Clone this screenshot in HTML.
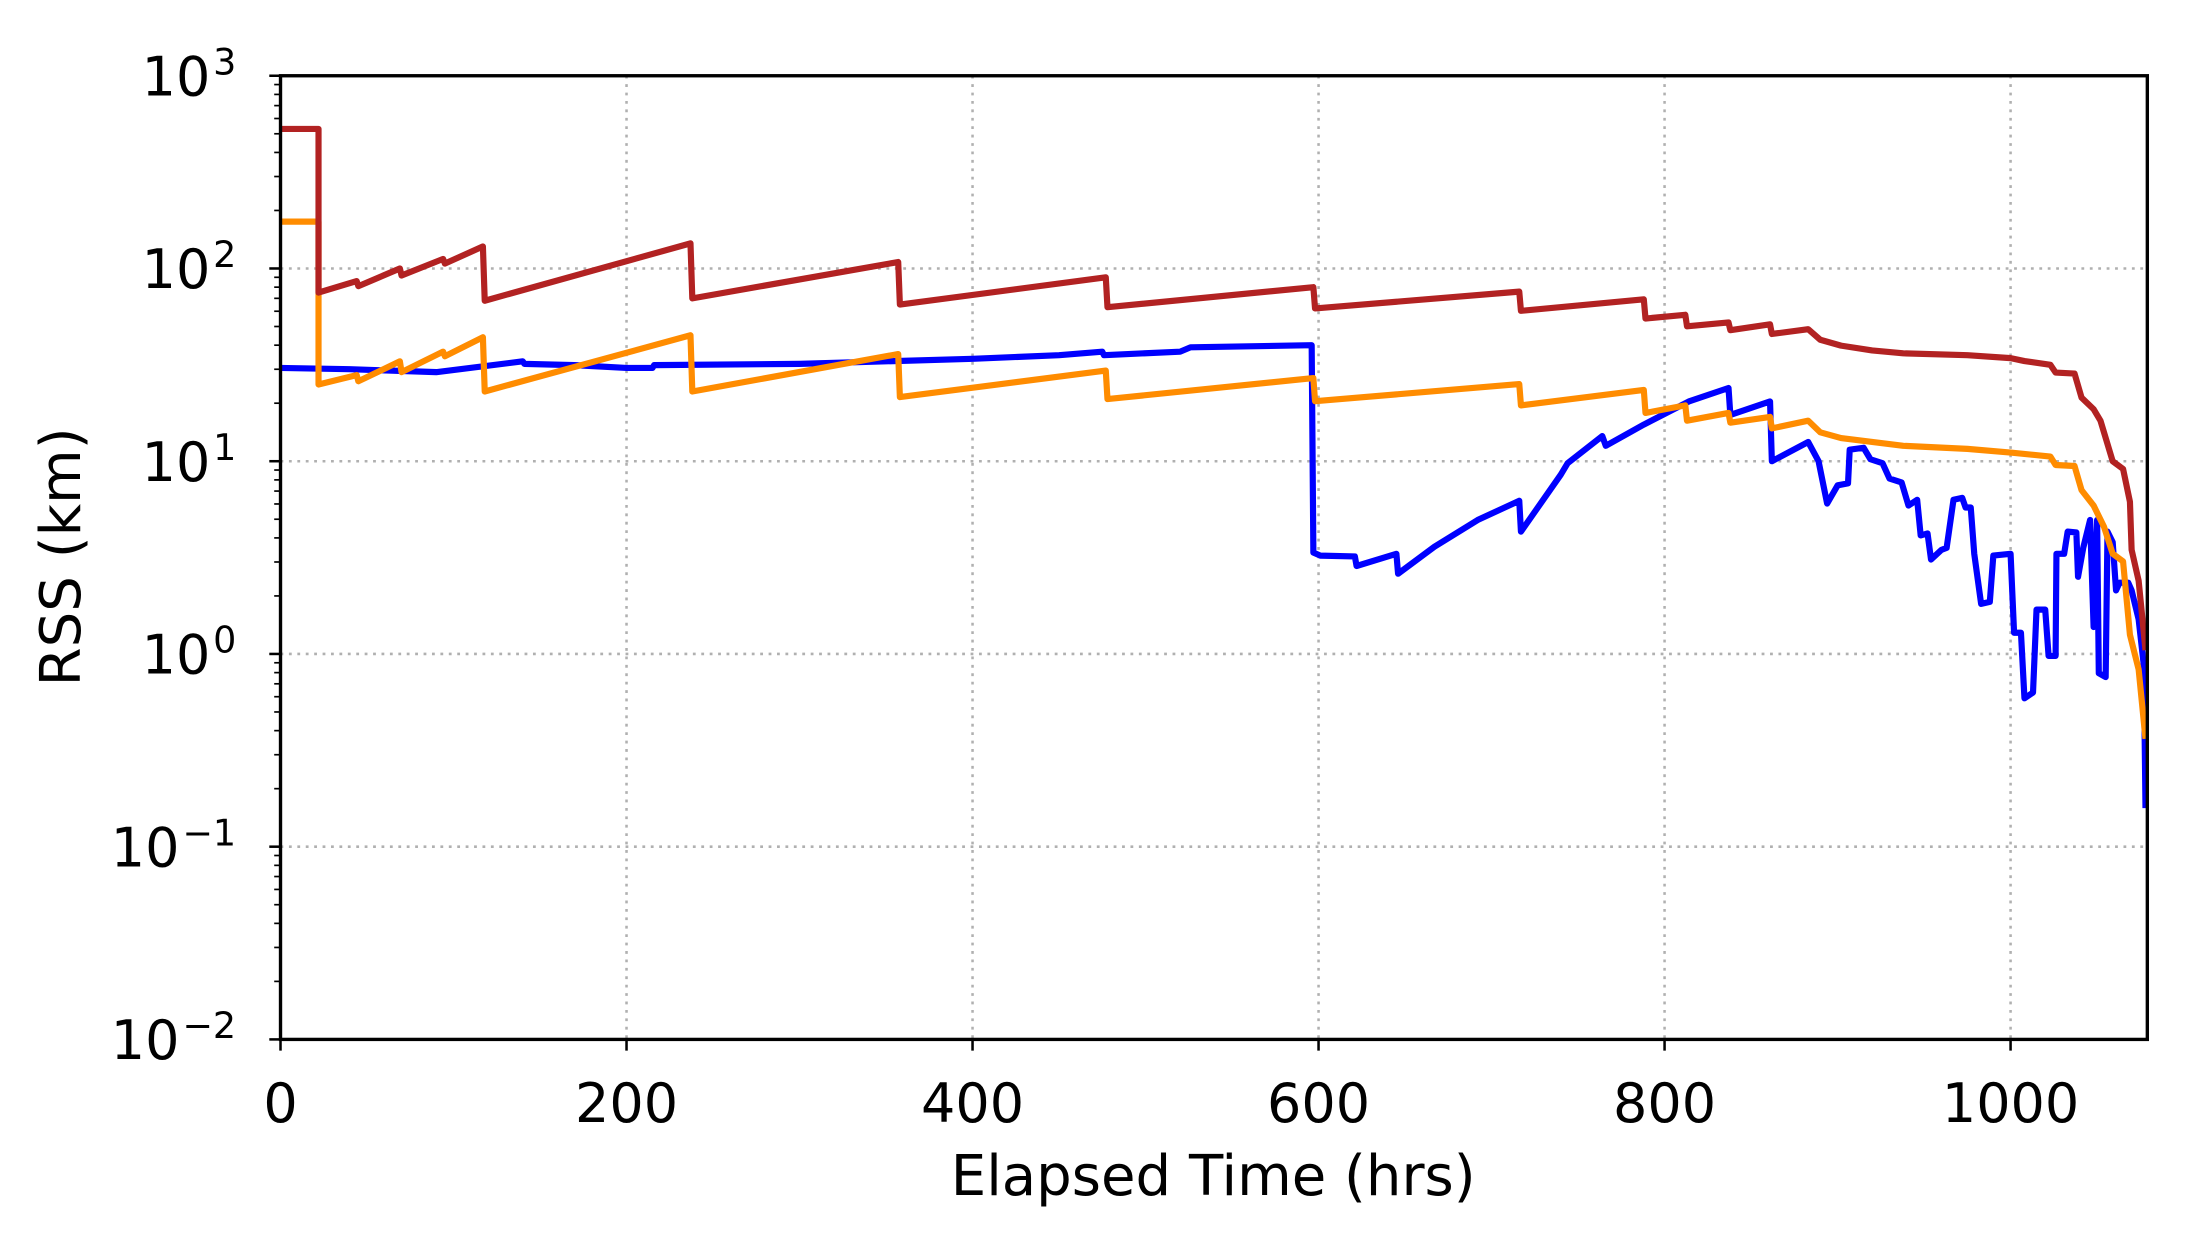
<!DOCTYPE html>
<html><head><meta charset="utf-8"><style>
html,body{margin:0;padding:0;background:#fff;}
svg{display:block;}
text{font-family:"DejaVu Sans","Liberation Sans",sans-serif;fill:#000;}
</style></head><body>
<svg id="s" width="2188" height="1240" viewBox="0 0 1560 884" preserveAspectRatio="none" xmlns="http://www.w3.org/2000/svg">
<rect width="1560" height="884" fill="#fff"/>
<g id="grid" stroke="#b0b0b0" stroke-width="1.8" stroke-dasharray="2,4"></g>
<g id="series" fill="none" stroke-width="4.4" stroke-linejoin="round"></g>
<g id="axes"></g>
<g id="labels" font-size="38.5"></g>
<text x="865" y="852" font-size="40" text-anchor="middle">Elapsed Time (hrs)</text>
<text transform="translate(57,397) rotate(-90)" font-size="40" text-anchor="middle">RSS (km)</text>
</svg>
<script>
const L=200,R=1531,T=54,B=741,D=137.4;
const X=t=>L+t*1.2335, Y=lv=>466.2-lv*D;
const ns="http://www.w3.org/2000/svg";
function el(p,tag,a,txt){const e=document.createElementNS(ns,tag);for(const k in a)e.setAttribute(k,a[k]);if(txt!==undefined)e.textContent=txt;document.getElementById(p).appendChild(e);return e;}
for(const t of [200,400,600,800,1000]) el("grid","line",{x1:X(t),x2:X(t),y1:T,y2:B});
for(const lv of [2,1,0,-1]) el("grid","line",{x1:L,x2:R,y1:Y(lv),y2:Y(lv)});
const lg=Math.log10;
function path(pts,col){let d="";pts.forEach((p,i)=>{d+=(i?"L":"M")+X(p[0]).toFixed(1)+","+Y(p[1]).toFixed(1);});el("series","path",{d:d,stroke:col});}
const V=v=>lg(v);
const red=[[0,V(530)],[22,V(530)],[22,V(75)],[44,V(86)],[45,V(81)],[69,V(100)],[70,V(92)],[94,V(112)],[95,V(106)],[117,V(130)],[118,V(68)],[237,V(135)],[238,V(70)],[357,V(108)],[358,V(65)],[477,V(90)],[478,V(63)],[597,V(80)],[598,V(62)],
[716,1.88],[717,1.78],[788,1.84],[789,1.74],[812,1.76],[813,1.70],[837,1.72],[838,1.68],[861,1.71],[862,1.66],[883,1.685],[890,1.63],[902,1.60],[920,1.575],[938,1.56],[975,1.55],[1000,1.535],[1008,1.52],[1023,1.50],[1026,1.46],[1037,1.455],[1041,1.33],[1048,1.27],[1052,1.21],[1059,1.0],[1065,0.96],[1069,0.79],[1070,0.54],[1074,0.38],[1078,0.02]];
const org=[[0,V(175)],[22,V(175)],[22,V(25)],[44,V(28)],[45,V(26)],[69,V(33)],[70,V(29)],[94,V(37)],[95,V(35)],[117,V(44)],[118,V(23)],[237,V(45)],[238,V(23)],[357,V(36)],[358,V(21.5)],[477,V(29.5)],[478,V(21)],[597,V(27)],[598,V(20.5)],
[716,1.40],[717,1.29],[788,1.37],[789,1.25],[812,1.29],[813,1.21],[837,1.25],[838,1.20],[861,1.23],[862,1.17],[883,1.21],[890,1.15],[902,1.12],[938,1.08],[975,1.064],[1000,1.045],[1023,1.024],[1026,0.98],[1037,0.975],[1041,0.85],[1048,0.77],[1054,0.66],[1059,0.52],[1065,0.48],[1069,0.10],[1074,-0.08],[1078,-0.44]];
const blu=[[0,V(30.5)],[40,V(30)],[90,V(29)],[140,V(33)],[141,V(32)],[170,V(31.5)],[200,V(30.5)],[215,V(30.5)],[216,V(31.5)],[300,V(32)],[350,V(33)],[400,V(34)],[450,V(35.5)],[475,V(37)],[476,V(35.5)],[520,V(37)],[526,V(39)],[596,V(40)],[597,0.526],[601,0.51],[621,0.506],[622,0.456],[645,0.52],[646,0.416],[667,0.556],[692,0.695],[716,0.795],[717,0.635],[740,0.93],[744,0.99],[764,1.13],[766,1.08],[788,1.19],[814,1.31],[837,1.38],[838,1.24],[861,1.31],[862,1.0],[883,1.10],[889,1.0],[894,0.78],[900,0.875],[906,0.885],[907,1.06],[915,1.07],[919,1.01],[926,0.99],[930,0.91],[937,0.89],[941,0.77],[946,0.80],[948,0.615],[952,0.625],[954,0.49],[960,0.54],[963,0.55],[967,0.80],[972,0.81],[974,0.76],[977,0.76],[979,0.52],[983,0.26],[988,0.27],[990,0.51],[1000,0.52],[1002,0.11],[1006,0.11],[1008,-0.23],[1013,-0.20],[1015,0.23],[1020,0.23],[1022,-0.01],[1026,-0.01],[1026.5,0.52],[1031,0.52],[1033,0.635],[1038,0.63],[1039,0.40],[1042,0.55],[1046,0.695],[1048,0.14],[1050,0.695],[1051,-0.10],[1055,-0.12],[1056,0.635],[1059,0.58],[1061,0.33],[1063,0.37],[1068,0.37],[1070,0.33],[1074,0.18],[1077,-0.06],[1078,-0.8]];
path(blu,"#0000ff");path(org,"#ff8c00");path(red,"#b22222");
el("axes","rect",{x:L,y:T,width:R-L,height:B-T,fill:"none",stroke:"#000","stroke-width":2.4});
for(const t of [0,200,400,600,800,1000]){el("axes","line",{x1:X(t),x2:X(t),y1:B,y2:B+8,stroke:"#000","stroke-width":1.8});
 el("labels","text",{x:X(t),y:800,"text-anchor":"middle"},String(t));}
for(let e=3;e>=-2;e--){const y=Y(e);el("axes","line",{x1:L-8,x2:L,y1:y,y2:y,stroke:"#000","stroke-width":1.8});
 if(e>-2)for(let m=2;m<=9;m++){const yy=Y(e-1+lg(m));el("axes","line",{x1:L-4.5,x2:L,y1:yy,y2:yy,stroke:"#000","stroke-width":1.2});}
 const sup=e<0?"\u2212"+(-e):String(e);
 el("labels","text",{x:e<0?128:150,y:y+14,"text-anchor":"end"},"10");
 el("labels","text",{x:e<0?130:152,y:y-1,"font-size":26},sup);}
</script>
</body></html>
